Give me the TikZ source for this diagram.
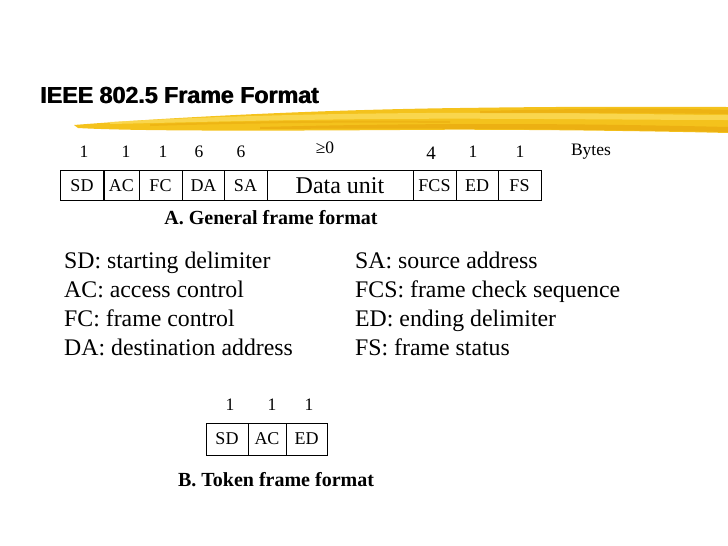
\documentclass[tikz,border=0pt]{standalone}
\usepackage{fontspec}
\setmainfont{Liberation Serif}
\newfontfamily\titlefont{Liberation Sans}
\definecolor{brushA}{HTML}{F4C21C}
\definecolor{brushB}{HTML}{FBDB5A}
\definecolor{brushC}{HTML}{E9A90E}
\begin{document}
\begin{tikzpicture}[x=1pt,y=-1pt,
  field/.style={draw=black, line width=0.9pt, inner sep=0pt, minimum height=30pt, font=\fontsize{18}{18}\selectfont},
  bignum/.style={inner sep=0pt, font=\fontsize{17.5}{17.5}\selectfont},
  caption/.style={inner sep=0pt, font=\bfseries\fontsize{20}{20}\selectfont},
  defn/.style={inner sep=0pt, anchor=base west, font=\fontsize{23.8}{23.8}\selectfont}]
\useasboundingbox (0,0) rectangle (728,546);
% brush stroke
\fill[brushA] (74,125) .. controls (150,119) and (300,110) .. (460,108)
  .. controls (600,106) and (690,107) .. (728,107) -- (728,133)
  .. controls (650,131) and (500,129) .. (400,130)
  .. controls (250,131) and (130,131) .. (78,128) -- cycle;
\fill[brushB, opacity=0.8] (110,122) .. controls (250,114) and (420,112) .. (560,113)
  .. controls (640,114) and (700,115) .. (728,115) -- (728,120)
  .. controls (640,120) and (500,118) .. (380,119) .. controls (260,120) and (160,123) .. (110,124) -- cycle;
\fill[brushC, opacity=0.7] (260,127) .. controls (420,123) and (560,123) .. (728,127) -- (728,132)
  .. controls (560,129) and (420,128) .. (260,129) -- cycle;
\fill[brushC, opacity=0.6] (480,111) .. controls (600,108) and (670,108) .. (728,110) -- (728,114)
  .. controls (660,113) and (590,113) .. (480,113) -- cycle;
\fill[brushC, opacity=0.5] (150,124) .. controls (250,121) and (350,120) .. (450,121) -- (450,123)
  .. controls (350,122) and (250,123) .. (150,126) -- cycle;
% title
\node[inner sep=0pt, anchor=base west, font=\titlefont\bfseries\fontsize{23.2}{23.2}\selectfont] (title) at (40,103) {IEEE 802.5 Frame Format};
\node[inner sep=0pt, anchor=base west, font=\titlefont\bfseries\fontsize{23.2}{23.2}\selectfont]
  at (40.7,103) {IEEE 802.5 Frame Format};
% general frame
\node[field, minimum width=43pt] (sd) at (82,185.5) {SD};
\node[field, minimum width=35pt] (ac) at (121.5,185.5) {AC};
\node[field, minimum width=43pt] (fc) at (160.5,185.5) {FC};
\node[field, minimum width=42pt] (da) at (203.5,185.5) {DA};
\node[field, minimum width=43pt] (sa) at (245.5,185.5) {SA};
\node[field, minimum width=146pt, font=\fontsize{24}{24}\selectfont] (data) at (340,185.5) {Data unit};
\node[field, minimum width=43pt] (fcs) at (434.5,185.5) {FCS};
\node[field, minimum width=42pt] (ed) at (477,185.5) {ED};
\node[field, minimum width=43pt] (fs) at (519.5,185.5) {FS};
\node[bignum] (n1) at (84,152) {1};
\node[bignum] (n2) at (126,152) {1};
\node[bignum] (n3) at (163,152) {1};
\node[bignum] (n4) at (199,152) {6};
\node[bignum] (n5) at (241,152) {6};
\node[bignum] (n6) at (325,148) {≥0};
\node[bignum, font=\fontsize{19}{19}\selectfont] (n7) at (431,153) {4};
\node[bignum] (n8) at (473,152) {1};
\node[bignum] (n9) at (520,152) {1};
\node[bignum] (bytes) at (591,152) {Bytes};
\node[caption] (capA) at (271,218) {A. General frame format};
% definitions
\node[defn] (d1) at (64,268) {SD: starting delimiter};
\node[defn] (d2) at (64,297) {AC: access control};
\node[defn] (d3) at (64,326) {FC: frame control};
\node[defn] (d4) at (64,355) {DA: destination address};
\node[defn] (d5) at (355,268) {SA: source address};
\node[defn] (d6) at (355,297) {FCS: frame check sequence};
\node[defn] (d7) at (355,326) {ED: ending delimiter};
\node[defn] (d8) at (355,355) {FS: frame status};
% token frame
\node[field, minimum width=42pt, minimum height=32pt] (tsd) at (227,439) {SD};
\node[field, minimum width=38pt, minimum height=32pt] (tac) at (267,439) {AC};
\node[field, minimum width=41pt, minimum height=32pt] (ted) at (306.5,439) {ED};
\node[bignum] (t1) at (230,405) {1};
\node[bignum] (t2) at (272,405) {1};
\node[bignum] (t3) at (309,405) {1};
\node[caption] (capB) at (276,480) {B. Token frame format};
\end{tikzpicture}
\end{document}
